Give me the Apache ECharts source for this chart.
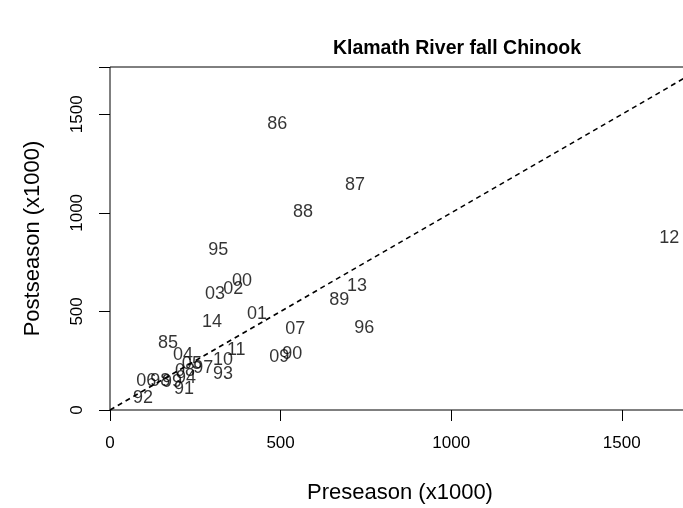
<!DOCTYPE html>
<html>
<head>
<meta charset="utf-8">
<script src="https://cdn.jsdelivr.net/npm/echarts@6/dist/echarts.min.js"></script>
<style>
html,body{margin:0;padding:0;background:#fff;}
#c{width:683px;height:508px;}
</style>
</head>
<body>
<div id="c"></div>
<script>
const years = ['86','87','88','12','95','00','02','03','13','89','14','01','07','96','85','04','11','10','09','90','93','97','05','92','06','98','99','91','94','08'];
const preseason = [490,718,566,1639,317,387,361,308,724,672,299,431,543,745,170,214,370,331,496,534,331,273,240,97,106,147,182,217,223,220];
const postseason = [1449,1140,1003,871,811,653,613,588,628,557,446,486,410,415,339,279,304,253,268,284,182,213,233,61,147,147,142,106,162,198];
const xTicks = [0,500,1000,1500];
const yTicks = [0,500,1000,1500];
const xRange = [0,1700];
const yRange = [0,1740];
const oneToOne = [[0,0],[1740,1740]];

const chart = echarts.init(document.getElementById('c'), null, {renderer:'canvas'});
const font = 'Liberation Sans, Arial, sans-serif';
chart.setOption({
  animation:false,
  backgroundColor:'#fff',
  title:{
    text:'Klamath River fall Chinook',
    left:452, top:34, textAlign:'center',
    textStyle:{fontFamily:font,fontWeight:'bold',fontSize:19.5,color:'#000'}
  },
  grid:{left:110, top:67, width:580, height:343, outerBoundsMode:'none', containLabel:false,
    show:true, borderColor:'#000', borderWidth:1, backgroundColor:'transparent'},
  xAxis:{
    type:'value', min:xRange[0], max:xRange[1], interval:500,
    name:'Preseason (x1000)', nameLocation:'middle', nameGap:72,
    nameTextStyle:{fontFamily:font,fontSize:22,color:'#000'},
    axisLine:{show:false},
    axisTick:{show:true, inside:false, length:11, lineStyle:{color:'#000',width:1}},
    axisLabel:{fontFamily:font,fontSize:17,color:'#000',margin:25,
      formatter:v=> xTicks.includes(v)? String(v):''},
    splitLine:{show:false}
  },
  yAxis:{
    type:'value', min:yRange[0], max:yRange[1], interval:500,
    name:'Postseason (x1000)', nameLocation:'middle', nameGap:66, nameRotate:90,
    nameTextStyle:{fontFamily:font,fontSize:22,color:'#000'},
    axisLine:{show:false},
    axisTick:{show:true, inside:false, length:11, lineStyle:{color:'#000',width:1}},
    axisLabel:{fontFamily:font,fontSize:17,color:'#000',margin:24,rotate:90,
      formatter:v=> yTicks.includes(v)? String(v):''},
    splitLine:{show:false}
  },
  series:[
    {
      type:'line', data:oneToOne, showSymbol:false, clip:true,
      lineStyle:{color:'#000', width:1.6, type:[5,4]}, silent:true
    },
    {
      type:'scatter', symbolSize:1, itemStyle:{color:'transparent'},
      data: years.map((y,i)=>({name:y, value:[preseason[i], postseason[i]]})),
      label:{show:true, position:'inside', formatter:p=>p.name,
        fontFamily:font, fontSize:18, color:'#000'}
    }
  ]
});
</script>
</body>
</html>
